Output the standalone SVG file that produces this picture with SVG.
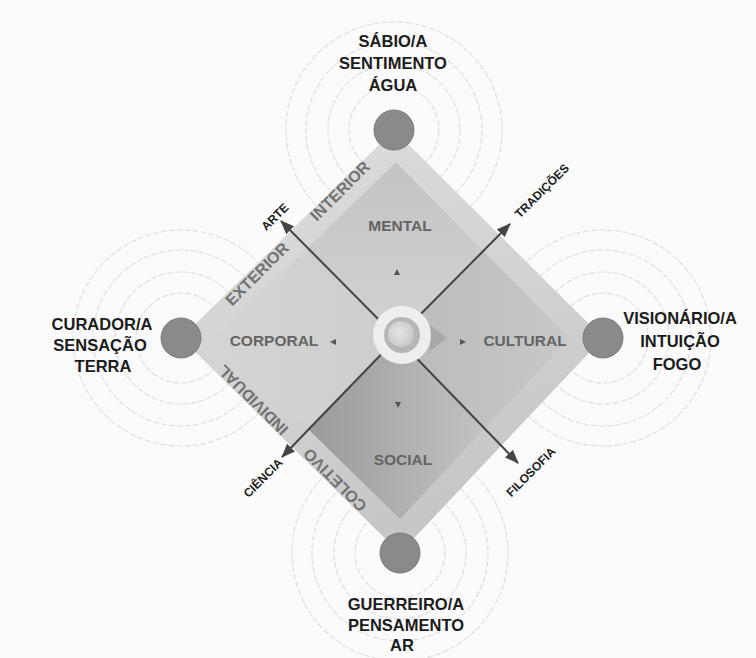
<svg xmlns="http://www.w3.org/2000/svg" width="756" height="658" viewBox="0 0 756 658">
<defs>
<style>
.ring{fill:none;stroke:#e0e0e0;stroke-width:1.2;stroke-dasharray:6 2}
.node{fill:#8a8a8a;stroke:#7c7c7c;stroke-width:1}
.name{font-family:"Liberation Sans",Arial,sans-serif;font-weight:bold;font-size:16.5px;fill:#1c1c1c;text-anchor:middle}
.quad{font-family:"Liberation Sans",Arial,sans-serif;font-weight:bold;font-size:15.5px;fill:#646464;text-anchor:middle}
.band{font-family:"Liberation Sans",Arial,sans-serif;font-weight:bold;font-size:16px;fill:#727272;text-anchor:middle;dominant-baseline:central}
.albl{font-family:"Liberation Sans",Arial,sans-serif;font-weight:bold;font-size:12px;fill:#222;text-anchor:middle;dominant-baseline:central}
.arrow{stroke:#454545;stroke-width:2;fill:none;marker-end:url(#ah)}
.tick{fill:#555}
</style>
<marker id="ah" markerUnits="userSpaceOnUse" markerWidth="16" markerHeight="12" refX="13" refY="5.5" orient="auto">
<path d="M0,0 L14,5.5 L0,11 z" fill="#454545"/>
</marker>
<linearGradient id="gBand" x1="0" y1="0" x2="0.4" y2="1">
<stop offset="0" stop-color="#dedede"/>
<stop offset="0.6" stop-color="#d2d2d2"/>
<stop offset="1" stop-color="#c6c6c6"/>
</linearGradient>
<linearGradient id="gMental" x1="0" y1="0" x2="0" y2="1">
<stop offset="0" stop-color="#c4c4c4"/>
<stop offset="1" stop-color="#d2d2d2"/>
</linearGradient>
<linearGradient id="gCorp" x1="0" y1="0" x2="1" y2="0">
<stop offset="0" stop-color="#d4d4d4"/>
<stop offset="1" stop-color="#cdcdcd"/>
</linearGradient>
<linearGradient id="gCult" x1="0" y1="0" x2="1" y2="0">
<stop offset="0" stop-color="#bababa"/>
<stop offset="1" stop-color="#c8c8c8"/>
</linearGradient>
<linearGradient id="gSoc" x1="0" y1="0" x2="1" y2="0">
<stop offset="0" stop-color="#9a9a9a"/>
<stop offset="1" stop-color="#c2c2c2"/>
</linearGradient>
<radialGradient id="gCore" cx="0.45" cy="0.45" r="0.6">
<stop offset="0" stop-color="#e6e6e6"/>
<stop offset="1" stop-color="#c6c6c6"/>
</radialGradient>
</defs>
<rect width="756" height="658" fill="#fbfbfb"/>

<g id="rings">
<circle class="ring" cx="394" cy="130" r="45"/><circle class="ring" cx="394" cy="130" r="66"/><circle class="ring" cx="394" cy="130" r="88"/><circle class="ring" cx="394" cy="130" r="108"/>
<circle class="ring" cx="181" cy="338" r="45"/><circle class="ring" cx="181" cy="338" r="66"/><circle class="ring" cx="181" cy="338" r="88"/><circle class="ring" cx="181" cy="338" r="108"/>
<circle class="ring" cx="603" cy="338" r="45"/><circle class="ring" cx="603" cy="338" r="66"/><circle class="ring" cx="603" cy="338" r="88"/><circle class="ring" cx="603" cy="338" r="108"/>
<circle class="ring" cx="400" cy="553" r="45"/><circle class="ring" cx="400" cy="553" r="66"/><circle class="ring" cx="400" cy="553" r="88"/><circle class="ring" cx="400" cy="553" r="108"/>
</g>

<g id="diamond">
<polygon points="394,130 603,338 400,553 181,338" fill="url(#gBand)"/>
<polygon id="q-mental" points="397,338 305.5,250 396,162 482.5,250" fill="url(#gMental)"/>
<polygon id="q-cultural" points="397,338 482.5,250 569,338 484.5,428.5" fill="url(#gCult)"/>
<polygon id="q-social" points="397,338 484.5,428.5 400,519 307.5,428.5" fill="url(#gSoc)"/>
<polygon id="q-corporal" points="397,338 307.5,428.5 215,338 305.5,250" fill="url(#gCorp)"/>
</g>

<g id="connectors">
<line class="arrow" x1="397" y1="338" x2="281" y2="221"/>
<line class="arrow" x1="397" y1="338" x2="510" y2="224"/>
<line class="arrow" x1="397" y1="338" x2="282" y2="457"/>
<line class="arrow" x1="397" y1="338" x2="518" y2="463"/>
</g>

<g id="center">
<polygon points="430,325 447,338 430,351" fill="#a9a9a9"/>
<circle cx="402" cy="335" r="29" fill="#eeeeee"/>
<circle cx="402" cy="335" r="18" fill="#b6b6b6"/>
<circle cx="401" cy="334" r="13" fill="url(#gCore)"/>
<polygon class="tick" points="397,269 400,275 394,275"/>
<polygon class="tick" points="330,342 336,339 336,345"/>
<polygon class="tick" points="466,342 460,339 460,345"/>
<polygon class="tick" points="398,408 395,402 401,402"/>
</g>

<g id="quadrant-labels">
<text class="quad" x="400" y="231">MENTAL</text>
<text class="quad" x="274" y="346">CORPORAL</text>
<text class="quad" x="525" y="346">CULTURAL</text>
<text class="quad" x="403" y="465">SOCIAL</text>
</g>

<g id="band-labels">
<text class="band" transform="translate(257,274) rotate(-45)">EXTERIOR</text>
<text class="band" transform="translate(340,191) rotate(-45)">INTERIOR</text>
<text class="band" transform="translate(253,400) rotate(-135)">INDIVIDUAL</text>
<text class="band" transform="translate(335,480) rotate(-135)">COLETIVO</text>
</g>

<g id="arrow-labels">
<text class="albl" transform="translate(275,217) rotate(-45)">ARTE</text>
<text class="albl" transform="translate(542,191) rotate(-45)">TRADIÇÕES</text>
<text class="albl" transform="translate(263,478) rotate(-45)">CIÊNCIA</text>
<text class="albl" transform="translate(531,472) rotate(-45)">FILOSOFIA</text>
</g>

<g id="node-sabio">
<circle class="node" cx="394" cy="130" r="20"/>
<text class="name" x="393" y="47">SÁBIO/A</text>
<text class="name" x="393" y="69">SENTIMENTO</text>
<text class="name" x="393" y="91">ÁGUA</text>
</g>
<g id="node-curador">
<circle class="node" cx="181" cy="338" r="20"/>
<text class="name" x="102" y="330">CURADOR/A</text>
<text class="name" x="100" y="351">SENSAÇÃO</text>
<text class="name" x="103" y="372">TERRA</text>
</g>
<g id="node-visionario">
<circle class="node" cx="603" cy="338" r="20"/>
<text class="name" x="680" y="324">VISIONÁRIO/A</text>
<text class="name" x="680" y="347">INTUIÇÃO</text>
<text class="name" x="677" y="370">FOGO</text>
</g>
<g id="node-guerreiro">
<circle class="node" cx="400" cy="553" r="20"/>
<text class="name" x="406" y="610">GUERREIRO/A</text>
<text class="name" x="406" y="631">PENSAMENTO</text>
<text class="name" x="402" y="651">AR</text>
</g>
</svg>
